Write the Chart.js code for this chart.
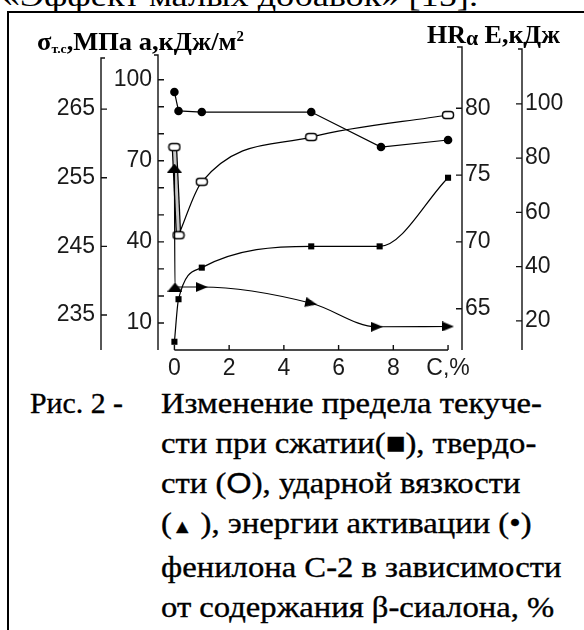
<!DOCTYPE html>
<html lang="ru">
<head>
<meta charset="utf-8">
<title>Рис. 2</title>
<script src="https://cdn.jsdelivr.net/npm/chart.js@4.4.1/dist/chart.umd.min.js"></script>
<style>
  html, body { margin: 0; padding: 0; background: #fff; }
  body { position: relative; width: 584px; height: 630px; overflow: hidden;
         font-family: "Liberation Serif", "Times New Roman", serif; color: #000; }
  #chartBox { position: absolute; left: 0; top: 0; width: 584px; height: 380px; }
  .rule { position: absolute; background: #000; }
  .txt { position: absolute; white-space: nowrap; transform-origin: 0 0; line-height: 1;
         font-family: "Liberation Serif", serif; }
  .hdr { font-weight: bold; font-size: 25px; }
  .lo { position: relative; top: 3px; font-size: 13px; }
  .hi { position: relative; top: -9px; font-size: 14px; }
  .heavy { -webkit-text-stroke: 0.35px #000; }
  #caption { position: absolute; left: 161px; top: 382.6px; font-size: 30px; line-height: 40px;
             font-family: "Liberation Serif", serif; white-space: nowrap; transform-origin: 0 0; }
  .sans { font-family: "Liberation Sans", sans-serif; }
</style>
</head>
<body>
<div class="txt" id="topTitle" style="left:2px; top:-19px; font-size:30px;">«Эффект малых добавок» [15].</div>
<div class="rule" style="left:7px; top:11px; width:577px; height:2px;"></div>
<div class="rule" style="left:7px; top:11px; width:2px; height:619px;"></div>

<div id="chartBox"><canvas id="chart" width="584" height="380"></canvas></div>

<div class="txt hdr" id="hdrLeft" style="left:37px; top:29px;">σ<span class="lo">т.с</span>,МПа а,кДж/м<span class="hi">2</span></div>
<div class="txt hdr" id="hdrRight" style="left:427px; top:22px;">HR<span style="position:relative; top:2px; font-size:21px;">α</span> E,кДж</div>

<div class="txt heavy" id="figNo" style="left:30px; top:387.9px; font-size:30px;">Рис. 2 -</div>
<div id="caption" class="heavy">
  <div><span id="capFirst">Изменение предела текуче-</span></div>
  <div>сти при сжатии(<span class="sans">■</span>), твердо-</div>
  <div>сти (<span class="sans">O</span>), ударной вязкости</div>
  <div>(<span class="sans" style="font-size:19px;">▲</span> ), энергии активации (•)</div>
  <div>фенилона С-2 в зависимости</div>
  <div>от содержания β-сиалона, %</div>
</div>

<script>
// содержание β-сиалона C, %
const cSigma = [0, 0.15, 1, 5, 7.5, 10];
const sigma  = [231.1, 237.3, 241.9, 245.0, 245.0, 255.0];   // σт.с, МПа (■)
const cHard  = [0, 0.15, 1, 5, 10];
const hard   = [77.1, 70.5, 74.5, 77.85, 79.5];               // HRα (○)
const cImp   = [0, 0.02, 1, 5, 7.4, 10];
const impact = [67.3, 23.3, 23.3, 17.3, 8.6, 8.7];            // а, кДж/м2 (▲)
const cEn    = [0, 0.15, 1, 5, 7.55, 10];
const energy = [104.4, 97.4, 97.0, 97.0, 84.1, 86.7];         // E, кДж (•)

// деления осей
const xTicks     = [0, 2, 4, 6, 8, 10];
const sigmaTicks = [235, 245, 255, 265];
const aTicks     = [10, 20, 30, 40, 50, 60, 70, 80, 90, 100];
const aLabels    = [10, 40, 70, 100];
const hrTicks    = [65, 70, 75, 80];
const eTicks     = [20, 40, 60, 80, 100];

function fitText(el, width) {
  el.style.transform = 'none';
  const w = el.getBoundingClientRect().width;
  el.style.transform = `scaleX(${width / w})`;
}

function fitAll() {
  fitText(document.getElementById('topTitle'), 476);
  fitText(document.getElementById('hdrLeft'), 207);
  fitText(document.getElementById('hdrRight'), 133);
  fitText(document.getElementById('figNo'), 93);
  const cap = document.getElementById('caption');
  cap.style.transform = 'none';
  const w = document.getElementById('capFirst').getBoundingClientRect().width;
  cap.style.transform = `scaleX(${381 / w})`;
}

// маркеры, которых нет среди стандартных pointStyle
function marker(w, h, draw) {
  const c = document.createElement('canvas');
  c.width = w;
  c.height = h;
  draw(c.getContext('2d'));
  return c;
}
const openBox = marker(14, 10, g => {
  g.fillStyle = '#fff';
  g.strokeStyle = '#000';
  g.lineWidth = 1.4;
  g.beginPath();
  g.roundRect(1.5, 1.5, 11, 7, 3);
  g.fill();
  g.stroke();
});
const triUp = marker(15, 9, g => {
  g.fillStyle = '#000';
  g.beginPath();
  g.moveTo(7.5, 0); g.lineTo(15, 9); g.lineTo(0, 9);
  g.closePath();
  g.fill();
});
const triRight = marker(12, 10, g => {
  g.fillStyle = '#000';
  g.beginPath();
  g.moveTo(0, 0); g.lineTo(12, 5); g.lineTo(0, 10);
  g.closePath();
  g.fill();
});

const pts = (xs, ys) => xs.map((x, i) => ({ x, y: ys[i] }));

// оси рисуются вручную: риски направлены внутрь, сверху засечка
const axisFrame = {
  id: 'axisFrame',
  afterDraw(chart) {
    const { ctx, chartArea: { bottom }, scales: s } = chart;
    ctx.save();
    ctx.strokeStyle = '#111';
    ctx.lineWidth = 1.4;
    ctx.beginPath();
    const axis = (x, top, cap, dir, scale, values) => {
      ctx.moveTo(x + cap, top);
      ctx.lineTo(x, top);
      ctx.lineTo(x, bottom);
      for (const v of values) {
        const y = scale.getPixelForValue(v);
        ctx.moveTo(x, y);
        ctx.lineTo(x + dir * 6, y);
      }
    };
    axis(s.ySigma.right, 58, 4, 1, s.ySigma, sigmaTicks);
    axis(s.yA.right, 55, -4, 1, s.yA, aTicks);
    axis(s.yHR.left, 47, -5, -1, s.yHR, hrTicks);
    axis(s.yE.left, 49, -4, -1, s.yE, eTicks);

    const x0 = s.x.getPixelForValue(xTicks[0]);
    const x1 = s.x.getPixelForValue(xTicks[xTicks.length - 1]);
    ctx.moveTo(x0, bottom);
    ctx.lineTo(x1, bottom);
    for (const v of xTicks) {
      const x = s.x.getPixelForValue(v);
      ctx.moveTo(x, bottom);
      ctx.lineTo(x, bottom - 5);
    }
    ctx.stroke();
    ctx.restore();
  }
};

const tickFont = { family: 'Liberation Sans', size: 23 };
const tickColor = '#1a1a1a';

function yScale(position, weight, min, max, ticks, width, padding, labels) {
  return {
    type: 'linear',
    position,
    weight,
    min,
    max,
    grid: { display: false, drawTicks: false },
    border: { display: false },
    ticks: {
      font: tickFont,
      color: tickColor,
      padding,
      autoSkip: false,
      callback: v => (labels ? (labels.includes(v) ? String(v) : '') : String(v))
    },
    afterBuildTicks: sc => { sc.ticks = ticks.map(v => ({ value: v })); },
    afterFit: sc => { sc.width = width; }
  };
}

document.addEventListener('DOMContentLoaded', () => {
  fitAll();
  if (document.fonts && document.fonts.ready) document.fonts.ready.then(fitAll);

  const ctx = document.getElementById('chart').getContext('2d');
  new Chart(ctx, {
    type: 'line',
    data: {
      datasets: [
        {
          label: 'σт.с',
          yAxisID: 'ySigma',
          data: pts(cSigma, sigma),
          pointStyle: 'rect',
          pointRadius: 4.3,
          pointBackgroundColor: '#000',
          pointBorderWidth: 0,
          borderColor: '#000',
          borderWidth: 1.2,
          cubicInterpolationMode: 'monotone',
          order: 0
        },
        {
          label: 'HRα',
          yAxisID: 'yHR',
          data: pts(cHard.slice(1), hard.slice(1)),
          pointStyle: openBox,
          pointRadius: 5,
          borderColor: '#000',
          borderWidth: 1.2,
          cubicInterpolationMode: 'monotone',
          order: 1
        },
        {
          label: 'HRα 0-0.15 (контур)',
          yAxisID: 'yHR',
          data: pts(cHard.slice(0, 2), hard.slice(0, 2)),
          pointRadius: 0,
          borderColor: '#000',
          borderWidth: 5.5,
          order: 3
        },
        {
          label: 'HRα 0-0.15',
          yAxisID: 'yHR',
          data: pts(cHard.slice(0, 2), hard.slice(0, 2)),
          pointStyle: openBox,
          pointRadius: [5, 0],
          borderColor: '#c8c8c8',
          borderWidth: 3,
          order: 2
        },
        {
          label: 'а',
          yAxisID: 'yA',
          data: pts(cImp, impact),
          pointStyle: [triUp, triUp, triRight, triRight, triRight, triRight],
          pointRotation: [0, 0, 0, 12, 0, 0],
          pointRadius: 5,
          borderColor: '#000',
          borderWidth: 1.2,
          cubicInterpolationMode: 'monotone',
          order: 0
        },
        {
          label: 'E',
          yAxisID: 'yE',
          data: pts(cEn, energy),
          pointStyle: 'circle',
          pointRadius: 4.3,
          pointBackgroundColor: '#000',
          pointBorderWidth: 0,
          borderColor: '#000',
          borderWidth: 1.2,
          tension: 0,
          order: 0
        }
      ]
    },
    options: {
      responsive: false,
      animation: false,
      devicePixelRatio: 1,
      layout: { padding: { top: 47, left: 0, right: 0, bottom: 0 } },
      plugins: { legend: { display: false }, tooltip: { enabled: false } },
      scales: {
        x: {
          type: 'linear',
          position: 'bottom',
          min: -0.6,
          max: 10.51,
          grid: { display: false, drawTicks: false },
          border: { display: false },
          ticks: {
            font: tickFont,
            color: tickColor,
            padding: 5,
            maxRotation: 0,
            autoSkip: false,
            callback: v => (v === 10 ? 'C,%' : String(v))
          },
          afterBuildTicks: sc => { sc.ticks = xTicks.map(v => ({ value: v })); },
          afterFit: sc => { sc.height = 30; }
        },
        ySigma: yScale('left', 2, 229.9, 274.05, sigmaTicks, 101, 6),
        yA: yScale('left', 1, 0, 112.1, aTicks, 57, 6, aLabels),
        yHR: yScale('right', 1, 61.91, 84.59, hrTicks, 60, 3),
        yE: yScale('right', 2, 9.27, 120.98, eTicks, 62, 3)
      }
    },
    plugins: [axisFrame]
  });
});
</script>
</body>
</html>
